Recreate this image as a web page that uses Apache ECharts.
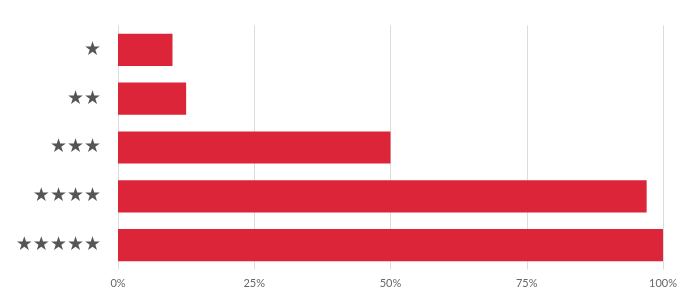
<!DOCTYPE html>
<html>
<head>
<meta charset="utf-8">
<script src="https://cdn.jsdelivr.net/npm/echarts@6/dist/echarts.min.js"></script>
<style>
html,body{margin:0;padding:0;background:#fff;}
#chart{width:698px;height:299px;}
</style>
</head>
<body>
<div id="chart"></div>
<script>
const categories = ['★', '★★', '★★★', '★★★★', '★★★★★'];
const values = [10, 12.5, 50, 97, 100];
const tickValues = [0, 25, 50, 75, 100];

const chart = echarts.init(document.getElementById('chart'), null, {renderer: 'canvas'});
chart.setOption({
  animation: false,
  grid: {left: 118, right: 35, top: 25.5, bottom: 29.5, containLabel: false},
  xAxis: {
    type: 'value', min: 0, max: 100, interval: 25,
    axisLine: {show: false},
    axisTick: {show: false},
    splitLine: {show: true, lineStyle: {color: '#dcdcdc', width: 1}},
    axisLabel: {
      color: '#666', fontSize: 11, margin: 8,
      fontFamily: 'Lato, "Open Sans", sans-serif',
      formatter: v => tickValues.includes(v) ? v + '%' : ''
    }
  },
  yAxis: {
    type: 'category', data: categories, inverse: true,
    axisLine: {show: false},
    axisTick: {show: false},
    axisLabel: {color: '#555', fontSize: 19, margin: 17, fontFamily: 'DejaVu Sans'}
  },
  series: [{
    type: 'bar', data: values, barCategoryGap: '34%',
    itemStyle: {color: '#dc2538'}
  }]
});
</script>
</body>
</html>
